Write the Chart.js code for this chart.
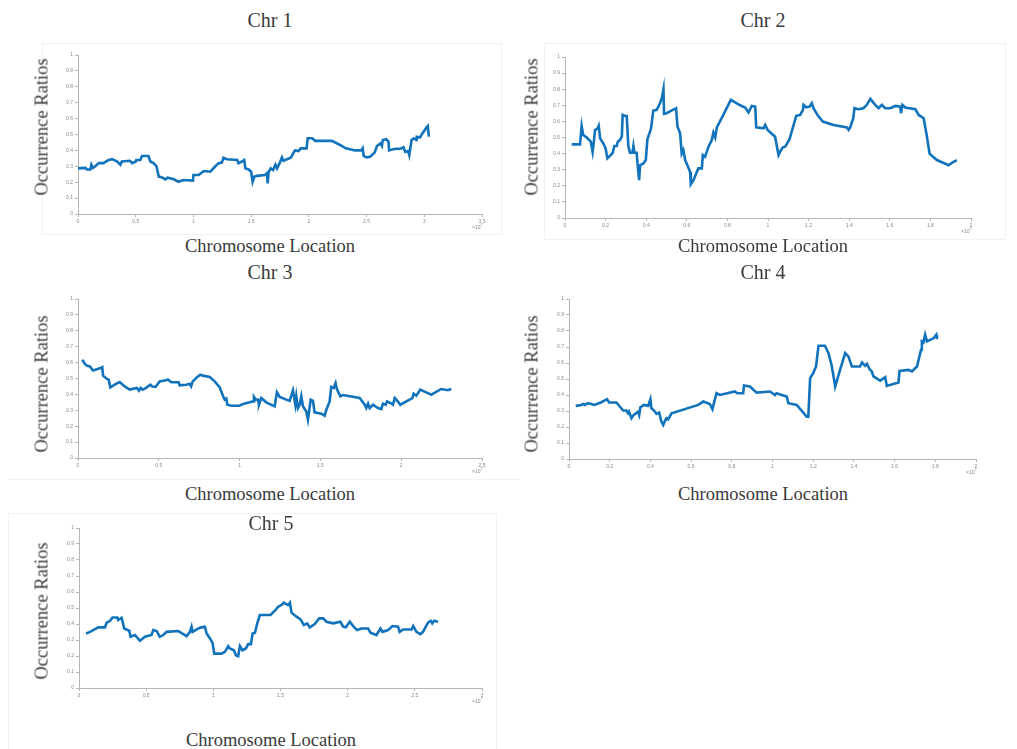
<!DOCTYPE html>
<html>
<head>
<meta charset="utf-8">
<script src="https://cdn.jsdelivr.net/npm/chart.js@4.4.1/dist/chart.umd.min.js"></script>
<style>
  body { margin: 0; background: #fff; width: 1017px; height: 749px; position: relative; overflow: hidden; }
  canvas { position: absolute; }
  .frame { position: absolute; border: 1px solid #f2f2f2; }
  .lbl { position: absolute; font-family: "Liberation Serif", "Times New Roman", serif; color: #3a3a3a; white-space: nowrap; transform: translate(-50%, -50%); }
  .title { font-size: 20px; }
  .axis { font-size: 18.5px; }
  .ylab { transform: translate(-50%, -50%) rotate(-90deg); }
  .exp { position: absolute; font-family: "Liberation Sans", sans-serif; font-size: 5px; color: #888; }
</style>
</head>
<body>

<div class="frame" style="left:42px;top:43px;width:458px;height:190px"></div>
<div class="frame" style="left:544px;top:43px;width:460px;height:195px"></div>
<div class="frame" style="left:8px;top:479px;width:512px;height:0;border-width:1px 0 0 0"></div>
<div class="frame" style="left:8px;top:513px;width:487px;height:240px"></div>

<script>
// y axis is the same everywhere
const yTicks = [0, 0.1, 0.2, 0.3, 0.4, 0.5, 0.6, 0.7, 0.8, 0.9, 1];

// x ticks (units of 10^7)
const xTicks1 = [0, 0.5, 1, 1.5, 2, 2.5, 3, 3.5];
const xTicks2 = [0, 0.2, 0.4, 0.6, 0.8, 1, 1.2, 1.4, 1.6, 1.8, 2];
const xTicks3 = [0, 0.5, 1, 1.5, 2, 2.5];
const xTicks4 = [0, 0.2, 0.4, 0.6, 0.8, 1, 1.2, 1.4, 1.6, 1.8, 2];
const xTicks5 = [0, 0.5, 1, 1.5, 2, 2.5, 3];

// Chr 1
const chr1X = [0, 0.064, 0.078, 0.107, 0.116, 0.13, 0.15, 0.18, 0.22, 0.266, 0.295, 0.34, 0.367, 0.38, 0.45, 0.47, 0.5, 0.505, 0.54, 0.555, 0.61, 0.627, 0.655, 0.68, 0.7, 0.73, 0.757, 0.777, 0.83, 0.87, 0.915, 0.996, 1.0, 1.045, 1.09, 1.146, 1.19, 1.22, 1.247, 1.26, 1.29, 1.38, 1.39, 1.42, 1.44, 1.45, 1.478, 1.5, 1.513, 1.528, 1.55, 1.62, 1.637, 1.643, 1.652, 1.67, 1.69, 1.71, 1.724, 1.747, 1.767, 1.78, 1.81, 1.845, 1.868, 1.88, 1.91, 1.93, 1.98, 1.99, 2.03, 2.055, 2.11, 2.2, 2.27, 2.32, 2.4, 2.455, 2.466, 2.475, 2.5, 2.53, 2.57, 2.59, 2.62, 2.633, 2.64, 2.67, 2.69, 2.695, 2.73, 2.76, 2.79, 2.82, 2.835, 2.86, 2.87, 2.89, 2.91, 2.93, 2.935, 2.965, 2.98, 3.0, 3.02, 3.03, 3.04];
const chr1Y = [0.287, 0.29, 0.28, 0.28, 0.31, 0.29, 0.3, 0.32, 0.32, 0.34, 0.345, 0.33, 0.31, 0.33, 0.335, 0.32, 0.33, 0.34, 0.34, 0.365, 0.365, 0.33, 0.32, 0.3, 0.235, 0.23, 0.218, 0.228, 0.218, 0.203, 0.214, 0.21, 0.245, 0.245, 0.27, 0.266, 0.3, 0.32, 0.323, 0.354, 0.344, 0.34, 0.32, 0.33, 0.34, 0.287, 0.28, 0.266, 0.203, 0.235, 0.24, 0.245, 0.256, 0.193, 0.266, 0.287, 0.277, 0.31, 0.287, 0.32, 0.356, 0.335, 0.344, 0.356, 0.386, 0.4, 0.396, 0.413, 0.413, 0.476, 0.476, 0.46, 0.46, 0.46, 0.434, 0.413, 0.4, 0.4, 0.413, 0.365, 0.356, 0.36, 0.386, 0.428, 0.444, 0.428, 0.465, 0.47, 0.455, 0.4, 0.407, 0.41, 0.41, 0.42, 0.39, 0.396, 0.37, 0.465, 0.476, 0.465, 0.486, 0.482, 0.503, 0.524, 0.545, 0.553, 0.486];

// Chr 2
const chr2X = [0.033, 0.074, 0.082, 0.09, 0.107, 0.127, 0.136, 0.143, 0.148, 0.161, 0.166, 0.173, 0.19, 0.2, 0.209, 0.225, 0.235, 0.243, 0.255, 0.26, 0.27, 0.28, 0.284, 0.296, 0.304, 0.312, 0.32, 0.332, 0.337, 0.342, 0.353, 0.358, 0.365, 0.37, 0.386, 0.398, 0.406, 0.424, 0.435, 0.452, 0.468, 0.477, 0.485, 0.488, 0.5, 0.547, 0.554, 0.567, 0.575, 0.583, 0.592, 0.608, 0.616, 0.62, 0.633, 0.646, 0.657, 0.674, 0.679, 0.69, 0.707, 0.723, 0.731, 0.74, 0.748, 0.78, 0.817, 0.863, 0.887, 0.904, 0.92, 0.937, 0.942, 0.978, 0.986, 0.998, 1.035, 1.052, 1.06, 1.073, 1.085, 1.106, 1.139, 1.159, 1.172, 1.175, 1.188, 1.205, 1.216, 1.224, 1.244, 1.27, 1.323, 1.389, 1.397, 1.405, 1.42, 1.426, 1.446, 1.47, 1.487, 1.504, 1.528, 1.545, 1.561, 1.577, 1.602, 1.627, 1.652, 1.655, 1.662, 1.676, 1.726, 1.742, 1.767, 1.783, 1.796, 1.813, 1.832, 1.89, 1.906, 1.93];
const chr2Y = [0.457, 0.457, 0.572, 0.516, 0.5, 0.474, 0.41, 0.484, 0.547, 0.557, 0.572, 0.495, 0.46, 0.432, 0.37, 0.39, 0.405, 0.447, 0.447, 0.474, 0.484, 0.505, 0.64, 0.634, 0.634, 0.447, 0.405, 0.405, 0.447, 0.405, 0.405, 0.328, 0.235, 0.328, 0.339, 0.36, 0.489, 0.557, 0.667, 0.672, 0.713, 0.744, 0.8, 0.647, 0.651, 0.682, 0.568, 0.526, 0.4, 0.422, 0.36, 0.312, 0.287, 0.21, 0.235, 0.276, 0.308, 0.308, 0.391, 0.38, 0.443, 0.484, 0.53, 0.5, 0.563, 0.64, 0.734, 0.7, 0.686, 0.655, 0.696, 0.692, 0.563, 0.557, 0.578, 0.547, 0.505, 0.391, 0.412, 0.439, 0.443, 0.489, 0.634, 0.64, 0.672, 0.703, 0.688, 0.692, 0.713, 0.682, 0.64, 0.599, 0.578, 0.563, 0.547, 0.563, 0.62, 0.682, 0.676, 0.682, 0.703, 0.74, 0.703, 0.682, 0.703, 0.682, 0.682, 0.696, 0.692, 0.651, 0.703, 0.686, 0.676, 0.64, 0.62, 0.505, 0.4, 0.38, 0.36, 0.328, 0.343, 0.36];

// Chr 3
const chr3X = [0.027, 0.041, 0.056, 0.072, 0.093, 0.14, 0.15, 0.155, 0.18, 0.19, 0.2, 0.227, 0.258, 0.289, 0.32, 0.365, 0.377, 0.388, 0.4, 0.419, 0.448, 0.46, 0.48, 0.505, 0.536, 0.557, 0.578, 0.623, 0.629, 0.67, 0.69, 0.7, 0.71, 0.738, 0.757, 0.773, 0.815, 0.846, 0.877, 0.897, 0.908, 0.918, 0.924, 0.949, 1.0, 1.021, 1.062, 1.083, 1.089, 1.1, 1.114, 1.12, 1.134, 1.165, 1.217, 1.231, 1.248, 1.289, 1.31, 1.33, 1.345, 1.351, 1.361, 1.372, 1.382, 1.392, 1.413, 1.423, 1.44, 1.454, 1.464, 1.506, 1.526, 1.537, 1.557, 1.567, 1.582, 1.594, 1.602, 1.623, 1.64, 1.743, 1.774, 1.784, 1.795, 1.805, 1.826, 1.856, 1.877, 1.887, 1.904, 1.912, 1.933, 1.949, 1.96, 1.97, 1.995, 2.032, 2.069, 2.077, 2.094, 2.118, 2.186, 2.248, 2.29, 2.31];
const chr3Y = [0.618, 0.593, 0.58, 0.577, 0.55, 0.566, 0.572, 0.518, 0.497, 0.493, 0.444, 0.461, 0.478, 0.45, 0.43, 0.44, 0.423, 0.44, 0.43, 0.44, 0.461, 0.45, 0.447, 0.482, 0.488, 0.493, 0.476, 0.476, 0.457, 0.461, 0.467, 0.45, 0.482, 0.509, 0.524, 0.518, 0.509, 0.482, 0.444, 0.392, 0.367, 0.373, 0.335, 0.329, 0.329, 0.34, 0.35, 0.356, 0.384, 0.367, 0.367, 0.335, 0.377, 0.35, 0.325, 0.413, 0.384, 0.367, 0.36, 0.426, 0.335, 0.388, 0.314, 0.335, 0.388, 0.325, 0.293, 0.241, 0.367, 0.36, 0.287, 0.279, 0.266, 0.304, 0.356, 0.447, 0.44, 0.472, 0.434, 0.388, 0.396, 0.377, 0.335, 0.314, 0.342, 0.314, 0.335, 0.314, 0.308, 0.342, 0.335, 0.356, 0.346, 0.335, 0.377, 0.367, 0.335, 0.356, 0.377, 0.405, 0.392, 0.43, 0.398, 0.434, 0.426, 0.434];

// Chr 4
const chr4X = [0.033, 0.061, 0.069, 0.077, 0.094, 0.126, 0.159, 0.187, 0.197, 0.233, 0.266, 0.282, 0.29, 0.295, 0.307, 0.318, 0.34, 0.345, 0.351, 0.368, 0.389, 0.4, 0.405, 0.418, 0.43, 0.443, 0.454, 0.463, 0.47, 0.479, 0.487, 0.504, 0.635, 0.66, 0.692, 0.705, 0.712, 0.725, 0.742, 0.815, 0.827, 0.856, 0.86, 0.889, 0.922, 0.988, 1.012, 1.02, 1.045, 1.07, 1.078, 1.119, 1.168, 1.176, 1.185, 1.2, 1.214, 1.226, 1.258, 1.275, 1.29, 1.3, 1.308, 1.332, 1.357, 1.373, 1.39, 1.43, 1.44, 1.455, 1.464, 1.477, 1.488, 1.496, 1.529, 1.554, 1.562, 1.619, 1.624, 1.669, 1.685, 1.71, 1.73, 1.734, 1.742, 1.75, 1.759, 1.775, 1.792, 1.805, 1.808];
const chr4Y = [0.332, 0.338, 0.344, 0.338, 0.349, 0.338, 0.355, 0.374, 0.353, 0.353, 0.303, 0.303, 0.286, 0.296, 0.255, 0.276, 0.296, 0.276, 0.324, 0.338, 0.332, 0.374, 0.317, 0.303, 0.282, 0.29, 0.234, 0.213, 0.234, 0.255, 0.248, 0.286, 0.338, 0.359, 0.344, 0.311, 0.349, 0.411, 0.4, 0.422, 0.411, 0.411, 0.459, 0.453, 0.415, 0.422, 0.4, 0.411, 0.4, 0.39, 0.349, 0.338, 0.265, 0.265, 0.505, 0.537, 0.578, 0.708, 0.708, 0.662, 0.589, 0.516, 0.453, 0.557, 0.662, 0.641, 0.578, 0.578, 0.603, 0.582, 0.595, 0.562, 0.547, 0.516, 0.49, 0.511, 0.457, 0.478, 0.551, 0.557, 0.547, 0.578, 0.683, 0.735, 0.729, 0.777, 0.735, 0.745, 0.756, 0.777, 0.75];

// Chr 5
const chr5X = [0.052, 0.082, 0.144, 0.193, 0.206, 0.231, 0.25, 0.285, 0.292, 0.317, 0.337, 0.374, 0.384, 0.417, 0.454, 0.491, 0.54, 0.553, 0.578, 0.602, 0.627, 0.652, 0.739, 0.776, 0.801, 0.826, 0.838, 0.846, 0.888, 0.912, 0.937, 0.95, 0.975, 0.994, 1.007, 1.061, 1.086, 1.111, 1.123, 1.153, 1.168, 1.185, 1.198, 1.217, 1.242, 1.26, 1.28, 1.292, 1.31, 1.327, 1.346, 1.396, 1.426, 1.458, 1.483, 1.508, 1.525, 1.54, 1.557, 1.57, 1.582, 1.619, 1.649, 1.674, 1.698, 1.718, 1.755, 1.788, 1.818, 1.842, 1.892, 1.946, 1.966, 1.986, 2.016, 2.041, 2.07, 2.103, 2.152, 2.17, 2.214, 2.244, 2.259, 2.301, 2.333, 2.375, 2.387, 2.413, 2.475, 2.488, 2.512, 2.541, 2.561, 2.598, 2.618, 2.63, 2.643, 2.673];
const chr5Y = [0.341, 0.351, 0.379, 0.379, 0.408, 0.42, 0.441, 0.441, 0.425, 0.439, 0.372, 0.358, 0.32, 0.331, 0.295, 0.32, 0.331, 0.362, 0.356, 0.32, 0.331, 0.351, 0.356, 0.337, 0.324, 0.351, 0.383, 0.351, 0.372, 0.379, 0.383, 0.341, 0.31, 0.282, 0.215, 0.215, 0.226, 0.262, 0.247, 0.236, 0.205, 0.199, 0.262, 0.236, 0.247, 0.274, 0.274, 0.341, 0.345, 0.404, 0.456, 0.456, 0.456, 0.483, 0.508, 0.519, 0.533, 0.525, 0.519, 0.533, 0.471, 0.446, 0.429, 0.393, 0.404, 0.379, 0.4, 0.435, 0.435, 0.414, 0.404, 0.414, 0.383, 0.379, 0.414, 0.387, 0.362, 0.372, 0.372, 0.345, 0.331, 0.372, 0.351, 0.362, 0.387, 0.383, 0.351, 0.366, 0.366, 0.387, 0.351, 0.337, 0.351, 0.408, 0.42, 0.404, 0.42, 0.414];

// where each plot area sits on the page
const panels = [
  { name: 'Chr 1', xs: chr1X, ys: chr1Y, ticks: xTicks1, box: [78, 55, 482, 214], yLab: [42, 127], title: [270, 20], xLab: [270, 246] },
  { name: 'Chr 2', xs: chr2X, ys: chr2Y, ticks: xTicks2, box: [565, 57, 971, 218], yLab: [532, 127], title: [763, 20], xLab: [763, 246] },
  { name: 'Chr 3', xs: chr3X, ys: chr3Y, ticks: xTicks3, box: [78, 299, 482, 458], yLab: [42, 384], title: [270, 272], xLab: [270, 494] },
  { name: 'Chr 4', xs: chr4X, ys: chr4Y, ticks: xTicks4, box: [569, 299, 976, 459], yLab: [532, 384], title: [763, 272], xLab: [763, 494] },
  { name: 'Chr 5', xs: chr5X, ys: chr5Y, ticks: xTicks5, box: [79, 528, 482, 688], yLab: [42, 611], title: [271, 523], xLab: [271, 740] }
];

const Y_W = 30, X_H = 20, PAD_T = 10, PAD_R = 20;

function addLabel(text, pos, cls) {
  const d = document.createElement('div');
  d.className = 'lbl ' + cls;
  d.style.left = pos[0] + 'px';
  d.style.top = pos[1] + 'px';
  d.textContent = text;
  document.body.appendChild(d);
}

panels.forEach(p => {
  const [l, t, r, b] = p.box;
  const canvas = document.createElement('canvas');
  canvas.width = (r - l) + Y_W + PAD_R;
  canvas.height = (b - t) + PAD_T + X_H;
  canvas.style.left = (l - Y_W) + 'px';
  canvas.style.top = (t - PAD_T) + 'px';
  document.body.appendChild(canvas);

  const tickStyle = { font: { family: 'Liberation Sans', size: 5 }, color: '#8a8a8a', padding: 2, autoSkip: false, maxRotation: 0 };
  const gridStyle = { drawOnChartArea: false, drawTicks: true, tickLength: 3, color: '#b5b5b5' };

  new Chart(canvas, {
    type: 'line',
    data: {
      datasets: [{
        data: p.xs.map((x, i) => ({ x: x, y: p.ys[i] })),
        borderColor: '#1273bd',
        borderWidth: 2.6,
        pointRadius: 0,
        tension: 0,
        fill: false
      }]
    },
    options: {
      responsive: false,
      animation: false,
      devicePixelRatio: 1,
      layout: { padding: { top: PAD_T, right: PAD_R, left: 0, bottom: 0 } },
      plugins: { legend: { display: false }, tooltip: { enabled: false } },
      scales: {
        x: {
          type: 'linear',
          min: p.ticks[0],
          max: p.ticks[p.ticks.length - 1],
          afterBuildTicks: s => { s.ticks = p.ticks.map(v => ({ value: v })); },
          afterFit: s => { s.height = X_H; },
          ticks: { ...tickStyle, callback: v => String(v) },
          grid: gridStyle,
          border: { color: '#b5b5b5' }
        },
        y: {
          min: 0,
          max: 1,
          afterBuildTicks: s => { s.ticks = yTicks.map(v => ({ value: v })); },
          afterFit: s => { s.width = Y_W; },
          ticks: { ...tickStyle, callback: v => String(v) },
          grid: gridStyle,
          border: { color: '#b5b5b5' }
        }
      }
    }
  });

  addLabel(p.name, p.title, 'title');
  addLabel('Chromosome Location', p.xLab, 'axis');
  addLabel('Occurrence Ratios', p.yLab, 'axis ylab');

  const e = document.createElement('div');
  e.className = 'exp';
  e.style.left = (r - 10) + 'px';
  e.style.top = (b + 8) + 'px';
  e.innerHTML = '&times;10<sup style="font-size:4px">7</sup>';
  document.body.appendChild(e);
});
</script>
</body>
</html>
